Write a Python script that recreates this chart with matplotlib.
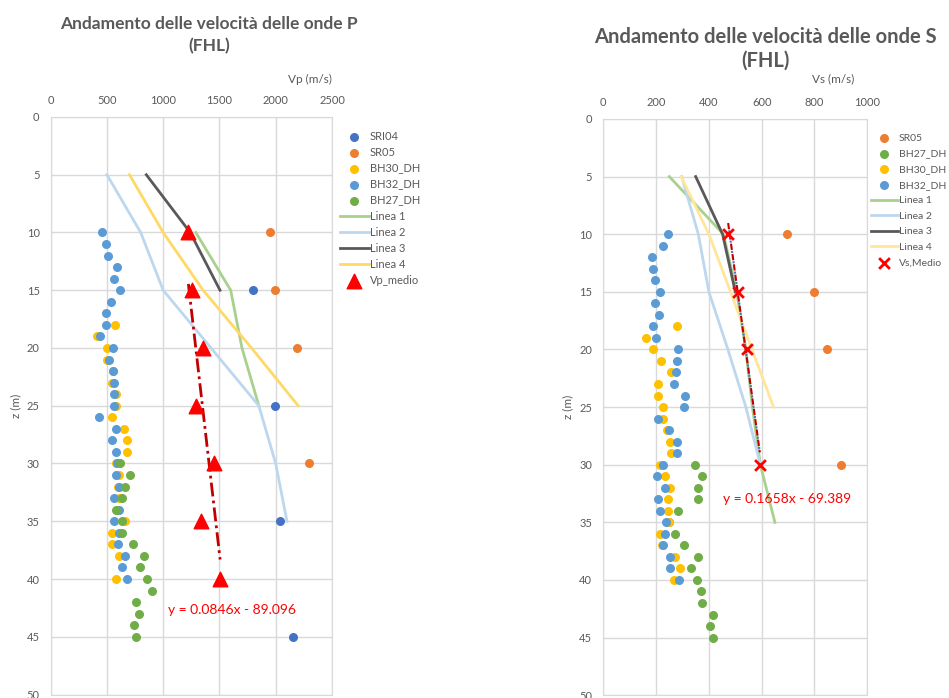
import matplotlib.pyplot as plt
import numpy as np

plt.rcParams['font.family'] = ['Lato', 'DejaVu Sans']

# ---------------- onde P ----------------
sri04_z = [15, 25, 35, 45]
sri04_vp = [1800, 1990, 2040, 2150]
sr05_z = [10, 15, 20, 30]
sr05_vp = [1945, 1990, 2190, 2295]
bh30_z = [18, 19, 20, 21, 22, 23, 24, 25, 26, 27, 28, 29, 30, 31, 32, 33, 34, 35, 36, 37, 38, 40]
bh30_vp = [572, 415, 504, 504, 552, 548, 584, 584, 548, 655, 676, 676, 581, 610, 600, 608, 600, 658, 548, 548, 604, 581]
bh32_z = [10, 11, 12, 13, 14, 15, 16, 17, 18, 19, 20, 21, 22, 23, 24, 25, 26, 27, 28, 29, 30, 31, 32, 33, 34, 35, 36, 37, 38, 39, 40]
bh32_vp = [454, 489, 507, 593, 560, 614, 537, 489, 489, 442, 552, 516, 552, 560, 560, 560, 433, 584, 548, 584, 590, 584, 605, 563, 610, 563, 604, 602, 658, 634, 679]
bh27_z = [30, 31, 32, 33, 34, 35, 36, 37, 38, 39, 40, 41, 42, 43, 44, 45]
bh27_vp = [614, 706, 658, 634, 584, 634, 634, 732, 827, 792, 857, 901, 762, 783, 741, 762]
lp1_z, lp1_v = [10, 15, 20, 25], [1290, 1600, 1700, 1850]
lp2_z, lp2_v = [5, 10, 15, 20, 25, 30, 35], [500, 800, 1000, 1425, 1850, 2000, 2100]
lp3_z, lp3_v = [5, 10, 15], [850, 1240, 1505]
lp4_z, lp4_v = [5, 10, 15, 20, 25], [700, 1000, 1355, 1785, 2200]
vpm_z = [10, 15, 20, 25, 30, 35, 40]
vpm_v = [1224, 1254, 1358, 1293, 1453, 1340, 1506]
p_slope, p_icpt = 0.0846, -89.096

# ---------------- onde S ----------------
ssr05_z = [10, 15, 20, 30]
ssr05_vs = [697, 799, 849, 899]
sbh27_z = [30, 31, 32, 33, 34, 35, 36, 37, 38, 39, 40, 41, 42, 43, 44, 45]
sbh27_vs = [347, 374, 360, 360, 283, 250, 270, 306, 359, 334, 356, 371, 374, 414, 404, 414]
sbh30_z = [18, 19, 20, 21, 22, 23, 24, 25, 26, 27, 28, 29, 30, 31, 32, 33, 34, 35, 36, 37, 38, 39, 40]
sbh30_vs = [278, 162, 190, 220, 255, 207, 207, 225, 226, 243, 253, 256, 215, 235, 253, 244, 244, 250, 213, 222, 272, 292, 269]
sbh32_z = [10, 11, 12, 13, 14, 15, 16, 17, 18, 19, 20, 21, 22, 23, 24, 25, 26, 27, 28, 29, 30, 31, 32, 33, 34, 35, 36, 37, 38, 39, 40]
sbh32_vs = [247, 225, 183, 190, 195, 215, 195, 211, 190, 199, 283, 280, 277, 267, 310, 307, 207, 250, 280, 281, 225, 203, 235, 207, 215, 237, 234, 228, 251, 251, 288]
ls1_z, ls1_v = [5, 10, 15, 20, 25, 30, 35], [250, 455, 505, 540, 565, 595, 650]
ls2_z, ls2_v = [5, 10, 15, 20, 25, 30], [297, 360, 400, 472, 540, 595]
ls3_z, ls3_v = [5, 10, 15], [350, 452, 500]
ls4_z, ls4_v = [5, 10, 15, 20, 25], [295, 400, 482, 563, 645]
vsm_z = [10, 15, 20, 30]
vsm_v = [473, 509, 543, 593]
s_slope, s_icpt = 0.1658, -69.389

BLUE = '#4472C4'
ORANGE = '#ED7D31'
YELLOW = '#FFC000'
LBLUE = '#5B9BD5'
GREEN = '#70AD47'
GRID = '#D9D9D9'
TXT = '#595959'

fig = plt.figure(figsize=(9.49, 6.98), dpi=100)
ax1 = fig.add_axes([0.0534, 0.005, 0.2964, 0.8274])
ax2 = fig.add_axes([0.6357, 0.004, 0.2782, 0.8256])

ms = 30


def style(ax, xmax, xstep, xlabel, xlabx, xlaby):
    ax.set_xlim(0, xmax)
    ax.set_ylim(50, 0)
    ax.set_xticks(np.arange(0, xmax + 1, xstep))
    ax.set_yticks(np.arange(0, 51, 5))
    ax.xaxis.tick_top()
    ax.tick_params(length=0, labelsize=8, colors=TXT, pad=8)
    ax.grid(color=GRID, lw=1)
    ax.set_axisbelow(True)
    for s in ax.spines.values():
        s.set_color(GRID)
    ax.set_ylabel('z (m)', fontsize=8.5, color=TXT, labelpad=4)
    ax.text(xlabx, xlaby, xlabel, transform=ax.transAxes, fontsize=8.5,
            color=TXT, ha='center', va='bottom')


# left chart
style(ax1, 2500, 500, 'Vp (m/s)', 0.92, 1.055)
h = []
h.append(ax1.scatter(sri04_vp, sri04_z, s=ms, color=BLUE, label='SRI04', zorder=3))
h.append(ax1.scatter(sr05_vp, sr05_z, s=ms, color=ORANGE, label='SR05', zorder=3))
h.append(ax1.scatter(bh30_vp, bh30_z, s=ms, color=YELLOW, label='BH30_DH', zorder=3))
h.append(ax1.scatter(bh32_vp, bh32_z, s=ms, color=LBLUE, label='BH32_DH', zorder=3))
h.append(ax1.scatter(bh27_vp, bh27_z, s=ms, color=GREEN, label='BH27_DH', zorder=3))
h += ax1.plot(lp1_v, lp1_z, color='#A9D18E', lw=2, label='Linea 1')
h += ax1.plot(lp2_v, lp2_z, color='#BDD7EE', lw=2, label='Linea 2')
h += ax1.plot(lp3_v, lp3_z, color='#595959', lw=2, label='Linea 3')
h += ax1.plot(lp4_v, lp4_z, color='#FFD966', lw=2, label='Linea 4')
h.append(ax1.scatter(vpm_v, vpm_z, s=110, marker='^', color='#FF0000', label='Vp_medio', zorder=4))
xt = np.array([min(vpm_v), max(vpm_v)])
ax1.plot(xt, p_slope * xt + p_icpt, color='#C00000', lw=2, ls=(0, (5, 1.5, 1, 1.5)), zorder=3)
ax1.text(1040, 42.7, 'y = %.4fx - %.3f' % (p_slope, -p_icpt), color='#FF0000', fontsize=10, va='center')
ax1.legend(handles=h, loc='upper left', bbox_to_anchor=(1.0, 0.99), frameon=False,
           fontsize=8, labelcolor=TXT, handlelength=2.6, handletextpad=0.1,
           labelspacing=0.45, borderaxespad=0.3)

# right chart
style(ax2, 1000, 200, 'Vs (m/s)', 0.87, 1.06)
h = []
h.append(ax2.scatter(ssr05_vs, ssr05_z, s=ms, color=ORANGE, label='SR05', zorder=3))
h.append(ax2.scatter(sbh27_vs, sbh27_z, s=ms, color=GREEN, label='BH27_DH', zorder=3))
h.append(ax2.scatter(sbh30_vs, sbh30_z, s=ms, color=YELLOW, label='BH30_DH', zorder=3))
h.append(ax2.scatter(sbh32_vs, sbh32_z, s=ms, color=LBLUE, label='BH32_DH', zorder=3))
h += ax2.plot(ls1_v, ls1_z, color='#A9D18E', lw=2, label='Linea 1')
h += ax2.plot(ls2_v, ls2_z, color='#BDD7EE', lw=2, label='Linea 2')
h += ax2.plot(ls3_v, ls3_z, color='#595959', lw=2, label='Linea 3')
h += ax2.plot(ls4_v, ls4_z, color='#FFE699', lw=2, label='Linea 4')
h.append(ax2.scatter(vsm_v, vsm_z, s=60, marker='x', color='#FF0000', linewidths=2, label='Vs,Medio', zorder=5))
xt = np.array([min(vsm_v), max(vsm_v)])
ax2.plot(xt, s_slope * xt + s_icpt, color='#C00000', lw=1.5, ls=(0, (3, 2)), zorder=4)
ax2.plot(xt, s_slope * xt + s_icpt, color='#4472C4', lw=1.5, ls=(1.5, (1, 4)), zorder=4)
ax2.text(455, 33, 'y = %.4fx - %.3f' % (s_slope, -s_icpt), color='#FF0000', fontsize=10, va='center')
ax2.legend(handles=h, loc='upper left', bbox_to_anchor=(0.985, 0.987), frameon=False,
           fontsize=7.5, labelcolor=TXT, handlelength=2.6, handletextpad=0.1,
           labelspacing=0.6, borderaxespad=0.3)

fig.text(0.22, 0.95, 'Andamento delle velocità delle onde P\n(FHL)', ha='center', va='center',
         fontsize=12.5, fontweight='bold', color=TXT, linespacing=1.45)
fig.text(0.8065, 0.93, 'Andamento delle velocità delle onde S\n(FHL)', ha='center', va='center',
         fontsize=14.5, fontweight='bold', color=TXT, linespacing=1.25)

fig.savefig('out.png', dpi=100)
